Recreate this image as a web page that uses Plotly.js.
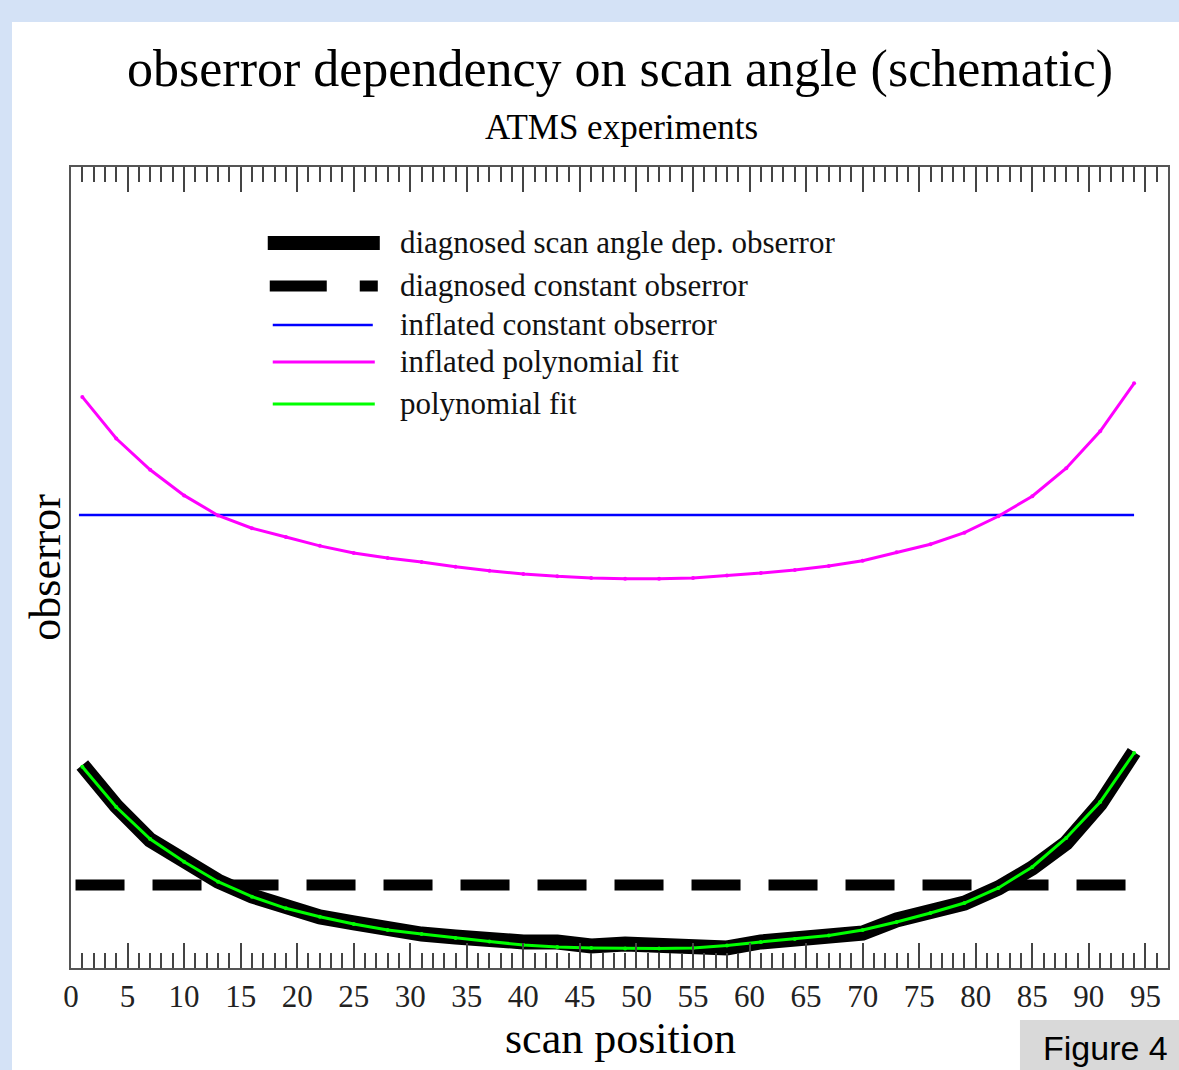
<!DOCTYPE html>
<html>
<head>
<meta charset="utf-8">
<script src="https://cdn.plot.ly/plotly-3.0.1.min.js"></script>
<style>
  html, body { margin:0; padding:0; background:#d4e2f6; width:1179px; height:1070px; overflow:hidden; }
  #chart { position:absolute; left:12px; top:22px; width:1167px; height:1048px; background:#ffffff; }
</style>
</head>
<body>
<div id="chart"></div>
<script>
// ---- data ----
const scanPos = [1,4,7,10,13,16,19,22,25,28,31,34,37,40,43,46,49,52,55,58,61,64,67,70,73,76,79,82,85,88,91,94];
const diagnosedScanAngle = [25.34,20.22,15.98,13.23,10.86,8.99,7.49,6.37,5.62,4.87,4.24,3.87,3.50,3.25,3.25,2.75,3.00,2.75,2.93,2.50,3.25,3.50,4.00,4.37,5.99,6.87,8.11,9.99,12.48,15.61,20.47,26.97];
const polynomialFit = [25.13,20.10,16.10,13.27,10.77,8.90,7.45,6.40,5.49,4.74,4.24,3.75,3.31,2.87,2.62,2.50,2.43,2.43,2.50,2.81,3.25,3.62,4.06,4.74,5.74,6.87,8.11,9.99,12.61,16.23,20.72,26.84];
const inflatedPolynomialFit = [71.3,66.1,62.2,59.0,56.5,54.9,53.8,52.7,51.8,51.2,50.7,50.1,49.6,49.2,48.9,48.7,48.6,48.6,48.7,49.0,49.3,49.7,50.2,50.85,51.9,52.9,54.35,56.4,58.9,62.4,67.0,73.0];
const diagnosedConstX = [0.4, 93.5];
const diagnosedConstY = [10.36, 10.36];
const inflatedConstX = [0.7, 94];
const inflatedConstY = [56.55, 56.55];
const seriesNames = [
  "diagnosed scan angle dep. obserror",
  "diagnosed constant obserror",
  "inflated constant obserror",
  "inflated polynomial fit",
  "polynomial fit"
];
const xTickVals = [0,5,10,15,20,25,30,35,40,45,50,55,60,65,70,75,80,85,90,95];
const titleText = "obserror dependency on scan angle (schematic)";
const subtitleText = "ATMS experiments";
const xTitle = "scan position";
const yTitle = "obserror";
const figLabel = "Figure 4";

// ---- plot ----
const serif = "Liberation Serif, Times New Roman, serif";
const traces = [
  {x: diagnosedConstX, y: diagnosedConstY, mode:"lines", name: seriesNames[1],
   line:{color:"#000000", width:11, dash:"49px,28px"}},
  {x: inflatedConstX, y: inflatedConstY, mode:"lines", name: seriesNames[2],
   line:{color:"#0000ff", width:2.5}},
  {x: scanPos, y: inflatedPolynomialFit, mode:"lines+markers", name: seriesNames[3],
   line:{color:"#ff00ff", width:3}, marker:{color:"#ff00ff", size:4}},
  {x: scanPos, y: diagnosedScanAngle, mode:"lines", name: seriesNames[0],
   line:{color:"#000000", width:15}},
  {x: scanPos, y: polynomialFit, mode:"lines+markers", name: seriesNames[4],
   line:{color:"#00ff00", width:3}, marker:{color:"#00ff00", size:4}}
];

function px2x(p){ return (p-71.3)/1096.7; }
function px2y(p){ return (968-p)/801; }

const legendRows = [
  {y:243, x0:268, x1:380, color:"#000000", width:14, dash:"solid"},
  {y:286, x0:270, x1:378, color:"#000000", width:11, dash:"57px,33px"},
  {y:325, x0:273, x1:373, color:"#0000ff", width:2.5, dash:"solid"},
  {y:362, x0:273, x1:375, color:"#ff00ff", width:3, dash:"solid"},
  {y:404, x0:273, x1:375, color:"#00ff00", width:3, dash:"solid"}
];
const legendOrder = [0,1,2,3,4];

const shapes = [];
const annotations = [];
legendRows.forEach((r,i)=>{
  shapes.push({type:"line", xref:"paper", yref:"paper",
    x0:px2x(r.x0), x1:px2x(r.x1), y0:px2y(r.y), y1:px2y(r.y),
    line:{color:r.color, width:r.width, dash:r.dash}});
  annotations.push({xref:"paper", yref:"paper", x:px2x(398), y:px2y(r.y-1),
    xanchor:"left", yanchor:"middle", showarrow:false, text:seriesNames[legendOrder[i]],
    font:{family:serif, size:31, color:"#111111"}});
});
// Figure label box
shapes.push({type:"rect", xref:"paper", yref:"paper", x0:px2x(1020), x1:px2x(1185),
  y0:px2y(1075), y1:px2y(1020), fillcolor:"#d9d9d9", line:{width:0}, layer:"below"});
annotations.push({xref:"paper", yref:"paper", x:px2x(1106), y:px2y(1048), xanchor:"center", yanchor:"middle",
  showarrow:false, text:figLabel, font:{family:"Liberation Sans, Arial, sans-serif", size:34, color:"#000000"}});
// titles
annotations.push({xref:"paper", yref:"paper", x:px2x(620), y:px2y(69), xanchor:"center", yanchor:"middle",
  showarrow:false, text:titleText, font:{family:serif, size:52, color:"#000000"}});
annotations.push({xref:"paper", yref:"paper", x:px2x(622), y:px2y(127), xanchor:"center", yanchor:"middle",
  showarrow:false, text:subtitleText, font:{family:serif, size:35, color:"#000000"}});
annotations.push({xref:"paper", yref:"paper", x:px2x(621), y:px2y(1038), xanchor:"center", yanchor:"middle",
  showarrow:false, text:xTitle, font:{family:serif, size:44, color:"#000000"}});
annotations.push({xref:"paper", yref:"paper", x:px2x(45), y:px2y(567), xanchor:"center", yanchor:"middle",
  showarrow:false, textangle:-90, text:yTitle, font:{family:serif, size:44, color:"#000000"}});

const layout = {
  width:1167, height:1048,
  margin:{l:59, r:11, t:145, b:102, pad:0},
  paper_bgcolor:"#ffffff", plot_bgcolor:"#ffffff",
  showlegend:false,
  xaxis:{range:[0,97], showgrid:false, zeroline:false,
    showline:true, linecolor:"#555555", linewidth:2, mirror:"ticks",
    ticks:"inside", ticklen:25, tickwidth:2, tickcolor:"#444444",
    tickmode:"array", tickvals:xTickVals, ticktext:xTickVals.map(String),
    tickfont:{family:serif, size:31, color:"#222222"},
    minor:{dtick:1, tick0:0, ticks:"inside", ticklen:15, tickwidth:2, tickcolor:"#444444", showgrid:false}},
  yaxis:{range:[0,100], showgrid:false, zeroline:false, showticklabels:false,
    showline:true, linecolor:"#555555", linewidth:2, mirror:true, ticks:""},
  shapes: shapes,
  annotations: annotations
};

Plotly.newPlot("chart", traces, layout, {displayModeBar:false, staticPlot:true});
</script>
</body>
</html>
